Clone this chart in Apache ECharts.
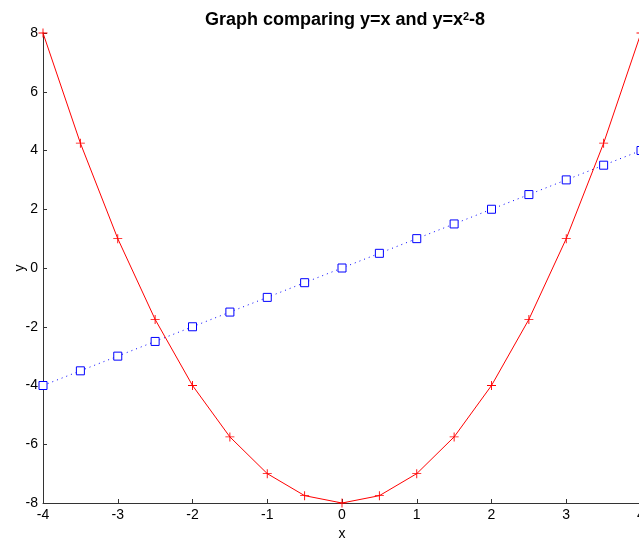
<!DOCTYPE html>
<html>
<head>
<meta charset="utf-8">
<script src="https://cdn.jsdelivr.net/npm/echarts@6/dist/echarts.min.js"></script>
<style>
  html, body { margin: 0; padding: 0; background: #fff; }
  #main { width: 639px; height: 540px; }
</style>
</head>
<body>
<div id="main"></div>
<script>
// x values sampled every 0.5
var xs = [-4, -3.5, -3, -2.5, -2, -1.5, -1, -0.5, 0, 0.5, 1, 1.5, 2, 2.5, 3, 3.5, 4];
// y = x
var yLine = [-4, -3.5, -3, -2.5, -2, -1.5, -1, -0.5, 0, 0.5, 1, 1.5, 2, 2.5, 3, 3.5, 4];
// y = x^2 - 8
var yParab = [8, 4.25, 1, -1.75, -4, -5.75, -7, -7.75, -8, -7.75, -7, -5.75, -4, -1.75, 1, 4.25, 8];

var pair = function (ys) {
  return xs.map(function (x, i) { return [x, ys[i]]; });
};

var chart = echarts.init(document.getElementById('main'));

var font = 'Liberation Sans, Arial';
var axisLine = { show: true, onZero: false, lineStyle: { color: '#333', width: 1 } };
var axisTick = { show: true, inside: true, length: 4, lineStyle: { color: '#333' } };

chart.setOption({
  backgroundColor: '#fff',
  animation: false,
  title: {
    text: 'Graph comparing y=x and y=x{sup|2}-8',
    left: 340,
    textAlign: 'center',
    top: 6,
    textStyle: {
      fontSize: 18, fontWeight: 'bold', color: '#000', fontFamily: font,
      rich: {
        sup: { fontSize: 11, fontWeight: 'bold', color: '#000', fontFamily: font, verticalAlign: 'top', padding: [0, 0, 7, 0] }
      }
    }
  },
  grid: { left: 43, top: 33, width: 598, height: 470, outerBoundsMode: 'none', containLabel: false },
  xAxis: {
    type: 'value',
    min: -4, max: 4, interval: 1,
    name: 'x', nameLocation: 'middle', nameGap: 24, nameMoveOverlap: false,
    nameTextStyle: { color: '#000', fontSize: 14, fontFamily: font },
    axisLine: axisLine,
    axisTick: axisTick,
    splitLine: { show: false },
    axisLabel: { color: '#000', fontSize: 14, fontFamily: font, margin: 5 }
  },
  yAxis: {
    type: 'value',
    min: -8, max: 8, interval: 2,
    name: 'y', nameLocation: 'middle', nameGap: 16, nameRotate: 90, nameMoveOverlap: false,
    nameTextStyle: { color: '#000', fontSize: 14, fontFamily: font },
    axisLine: axisLine,
    axisTick: axisTick,
    splitLine: { show: false },
    axisLabel: { color: '#000', fontSize: 14, fontFamily: font, margin: 5 }
  },
  series: [
    {
      type: 'line',
      data: pair(yLine),
      symbol: 'rect',
      symbolSize: 8,
      silent: true,
      emphasis: { disabled: true },
      itemStyle: { color: '#fff', borderColor: '#0000ff', borderWidth: 1 },
      lineStyle: { color: '#0000ff', width: 1, type: [1, 4] },
      z: 2
    },
    {
      type: 'line',
      data: pair(yParab),
      symbol: 'path://M4.5,0h1v10h-1zM0,4.5h10v1h-10z',
      symbolSize: 9,
      silent: true,
      emphasis: { disabled: true },
      itemStyle: { color: '#ff0000', borderWidth: 0 },
      lineStyle: { color: '#ff0000', width: 1 },
      z: 3
    }
  ]
});
</script>
</body>
</html>
